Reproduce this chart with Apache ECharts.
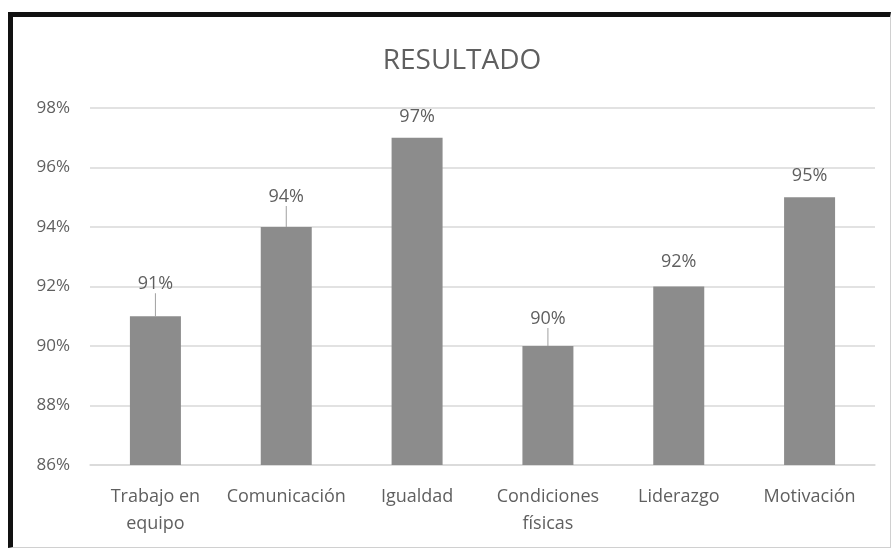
<!DOCTYPE html>
<html>
<head>
<meta charset="utf-8">
<script src="https://cdn.jsdelivr.net/npm/echarts@6/dist/echarts.min.js"></script>
<style>
  html, body { margin: 0; padding: 0; background: #fff; }
  #chart { position: absolute; left: 0; top: 0; width: 892px; height: 550px; }
  #frame {
    position: absolute; left: 8px; top: 12px; width: 877px; height: 530px;
    border-left: 5px solid #111; border-top: 5px solid #111;
    border-right: 1px solid #d0d0d0; border-bottom: 1px solid #d0d0d0;
    pointer-events: none;
  }
</style>
</head>
<body>
<div id="chart"></div>
<div id="frame"></div>
<script>
var categories = ['Trabajo en\nequipo', 'Comunicación', 'Igualdad', 'Condiciones\nfísicas', 'Liderazgo', 'Motivación'];
var values = [91, 94, 97, 90, 92, 95];
var yTicks = [86, 88, 90, 92, 94, 96, 98];

// how far each callout sits above its bar (px), as in the Excel chart
var labelLift = [32, 30, 21, 27, 25, 21];

(function() {
  var ink = '#5f5f5f';
  var rule = '#d9d9d9';
  var font = 'Open Sans';
  var chart = echarts.init(document.getElementById('chart'), null, { renderer: 'canvas' });

  chart.setOption({
    animation: false,
    title: {
      text: 'RESULTADO',
      left: 457,
      textAlign: 'center',
      top: 42,
      textStyle: { color: ink, fontSize: 28, fontWeight: 'normal', fontFamily: font }
    },
    grid: { left: 90, right: 17, top: 108, bottom: 85 },
    xAxis: {
      type: 'category',
      data: categories,
      axisLine: { lineStyle: { color: rule, width: 1.5 } },
      axisTick: { show: false },
      axisLabel: {
        color: ink, fontSize: 18, fontFamily: font,
        margin: 18, lineHeight: 27, interval: 0
      }
    },
    yAxis: {
      type: 'value',
      min: yTicks[0],
      max: yTicks[yTicks.length - 1],
      interval: 2,
      axisLine: { show: false },
      axisTick: { show: false },
      splitLine: { lineStyle: { color: rule, width: 1.5 } },
      axisLabel: { color: ink, fontSize: 17, fontFamily: font, margin: 20, formatter: '{value}%' }
    },
    series: [{
      type: 'bar',
      data: values.map(function(v, i) {
        return { value: v, labelLine: { show: labelLift[i] >= 27 } };
      }),
      barWidth: 51,
      itemStyle: { color: '#8c8c8c' },
      label: {
        show: true,
        position: 'top',
        color: ink,
        fontSize: 18,
        fontFamily: font,
        formatter: '{c}%'
      },
      labelLine: { lineStyle: { color: '#a0a0a0', width: 1 } },
      labelLayout: function(p) {
        return {
          x: p.rect.x + p.rect.width / 2,
          y: p.rect.y - labelLift[p.dataIndex],
          align: 'center',
          verticalAlign: 'middle'
        };
      }
    }]
  });

  window.addEventListener('resize', function() { chart.resize(); });
})();
</script>
</body>
</html>
